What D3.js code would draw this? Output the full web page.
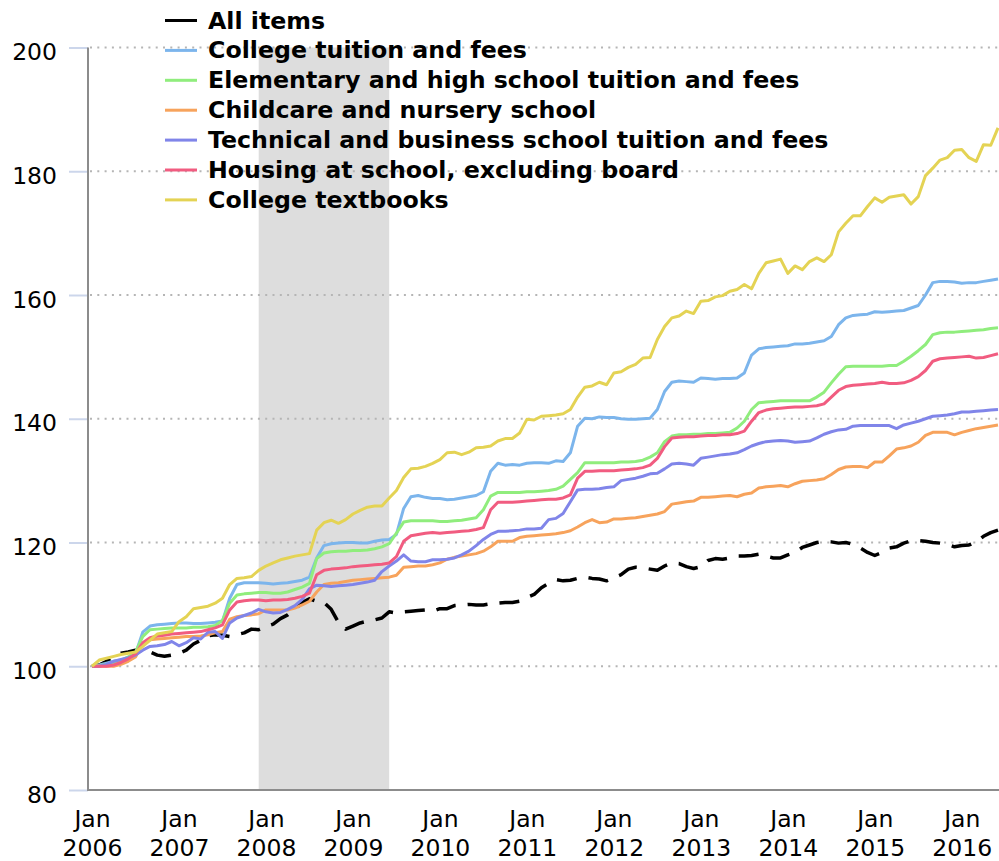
<!DOCTYPE html>
<html><head><meta charset="utf-8">
<script src="https://cdn.jsdelivr.net/npm/d3@7"></script>
<style>body{margin:0;background:#fff}svg{display:block}</style>
</head><body>
<svg id="chart" width="999" height="861"></svg>
<script>
// ---- data (monthly index, Jan 2006 = 100) ----
const startYear = 2006;
const xTickYears = [2006, 2007, 2008, 2009, 2010, 2011, 2012, 2013, 2014, 2015, 2016];
const yTicks = [80, 100, 120, 140, 160, 180, 200];
const recessionStart = 2007 + 11 / 12; // Dec 2007
const recessionEnd = 2009 + 5 / 12;    // Jun 2009

const seriesNames = [
  "All items",
  "College tuition and fees",
  "Elementary and high school tuition and fees",
  "Childcare and nursery school",
  "Technical and business school tuition and fees",
  "Housing at school, excluding board",
  "College textbooks"
];
const seriesColors = ["#000000", "#7cb5ec", "#90ed7d", "#f7a35c", "#8085e9", "#f15c80", "#e4d354"];

const allItems = [
  100.0,100.2,100.8,101.6,102.1,102.3,102.6,102.8,102.3,101.8,101.6,101.8,
  102.1,102.6,103.6,104.2,104.9,105.1,105.0,104.8,105.1,105.4,106.0,105.9,
  106.4,106.8,107.7,108.3,109.2,110.3,110.9,110.5,110.3,109.2,107.1,106.0,
  106.5,107.0,107.3,107.5,107.8,108.8,108.6,108.8,108.9,109.0,109.1,108.9,
  109.3,109.3,109.8,109.9,110.0,109.9,109.9,110.1,110.2,110.3,110.3,110.5,
  111.1,111.6,112.7,113.4,114.0,113.8,113.9,114.2,114.4,114.2,114.1,113.8,
  114.3,114.8,115.7,116.0,115.9,115.7,115.5,116.2,116.7,116.6,116.1,115.8,
  116.1,117.1,117.4,117.3,117.5,117.8,117.8,117.9,118.1,117.8,117.5,117.5,
  118.0,118.4,119.2,119.6,120.0,120.2,120.1,119.9,120.0,119.7,119.1,118.4,
  117.9,118.4,119.1,119.3,119.9,120.3,120.3,120.2,120.0,119.9,119.7,119.3,
  119.5,119.6,120.1,121.0,121.6,122.0
];
const collegeTuition = [
  100.0,100.2,100.5,100.8,101.0,101.2,102.0,105.5,106.5,106.7,106.8,106.9,
  107.0,107.0,106.9,106.9,107.0,107.1,107.3,111.0,113.2,113.5,113.5,113.5,
  113.4,113.3,113.4,113.5,113.7,113.9,114.4,117.5,119.5,119.8,119.9,120.0,
  120.0,119.9,119.9,120.2,120.4,120.5,121.3,125.5,127.4,127.6,127.3,127.1,
  127.1,126.9,127.0,127.2,127.4,127.6,128.2,131.5,132.8,132.5,132.6,132.5,
  132.8,132.9,132.9,132.8,133.2,133.1,134.5,138.8,140.1,140.0,140.3,140.2,
  140.2,140.0,139.9,139.9,140.0,140.1,141.5,144.4,145.9,146.1,146.0,145.9,
  146.6,146.5,146.4,146.5,146.5,146.6,147.4,150.3,151.3,151.5,151.6,151.7,
  151.8,152.1,152.1,152.2,152.4,152.6,153.3,155.2,156.3,156.7,156.8,156.9,
  157.3,157.2,157.3,157.4,157.5,157.9,158.3,160.0,162.0,162.2,162.2,162.1,
  161.9,162.0,162.0,162.2,162.4,162.6
];
const elementaryTuition = [
  100.0,100.1,100.3,100.6,101.0,101.5,102.3,104.8,105.9,106.0,106.1,106.2,
  106.2,106.2,106.3,106.3,106.4,106.6,107.4,110.2,111.5,111.7,111.8,111.9,
  111.9,111.8,111.8,112.0,112.4,112.8,113.4,117.4,118.3,118.5,118.6,118.6,
  118.7,118.7,118.8,119.0,119.3,119.8,121.5,123.3,123.5,123.5,123.5,123.5,
  123.4,123.4,123.5,123.6,123.8,124.0,125.3,127.5,128.1,128.1,128.1,128.1,
  128.2,128.2,128.3,128.4,128.6,129.1,130.2,131.3,132.9,132.9,132.9,132.9,
  132.9,133.0,133.0,133.1,133.3,133.8,134.5,136.3,137.2,137.4,137.4,137.5,
  137.5,137.6,137.6,137.7,137.8,138.5,139.6,141.5,142.6,142.7,142.8,142.9,
  142.9,142.9,142.9,142.9,143.5,144.3,145.8,147.2,148.4,148.5,148.5,148.5,
  148.5,148.5,148.6,148.6,149.3,150.1,151.0,152.0,153.6,153.9,154.0,154.0,
  154.1,154.2,154.3,154.4,154.6,154.7
];
const childcare = [
  100.0,100.0,100.0,100.0,100.3,100.8,101.5,103.6,104.3,104.4,104.5,104.6,
  104.7,104.8,104.8,104.9,105.1,105.4,105.6,107.6,108.0,108.2,108.3,108.5,
  109.1,109.1,109.1,109.1,109.4,109.9,110.5,112.0,113.2,113.4,113.5,113.7,
  113.9,114.0,114.1,114.2,114.3,114.4,114.7,116.0,116.1,116.2,116.2,116.4,
  116.7,117.3,117.6,117.8,118.0,118.2,118.6,119.3,120.2,120.2,120.2,120.8,
  121.0,121.1,121.2,121.3,121.4,121.6,121.9,122.5,123.2,123.7,123.2,123.3,
  123.8,123.8,123.9,124.0,124.2,124.4,124.6,125.0,126.2,126.4,126.6,126.7,
  127.3,127.3,127.4,127.5,127.6,127.4,127.8,128.0,128.8,129.0,129.1,129.2,
  129.0,129.5,129.9,130.0,130.1,130.3,131.0,131.8,132.2,132.3,132.3,132.1,
  133.0,133.0,134.0,135.1,135.3,135.6,136.2,137.3,137.8,137.8,137.8,137.4,
  137.8,138.1,138.4,138.6,138.8,139.0
];
const technicalTuition = [
  100.0,100.0,100.3,100.8,101.1,101.4,101.8,102.6,103.2,103.3,103.5,104.0,
  103.3,103.8,104.6,104.4,105.5,105.6,104.5,107.0,107.8,108.2,108.6,109.2,
  108.8,108.6,108.7,109.2,109.8,110.8,112.5,113.1,113.0,112.9,113.0,113.1,
  113.2,113.4,113.6,113.9,115.3,116.2,117.0,118.0,117.0,116.9,116.9,117.2,
  117.2,117.3,117.5,118.0,118.6,119.5,120.5,121.3,121.8,121.8,121.9,122.0,
  122.2,122.2,122.3,123.7,123.9,124.7,126.6,128.5,128.6,128.6,128.7,128.9,
  129.0,130.0,130.2,130.4,130.7,131.1,131.2,131.9,132.7,132.8,132.7,132.5,
  133.6,133.8,134.0,134.2,134.3,134.5,135.0,135.6,136.0,136.3,136.4,136.5,
  136.4,136.2,136.3,136.4,136.9,137.5,137.9,138.2,138.3,138.8,138.9,138.9,
  138.9,138.9,138.9,138.4,139.0,139.3,139.6,140.0,140.4,140.5,140.6,140.8,
  141.1,141.1,141.2,141.3,141.4,141.5
];
const housingAtSchool = [
  100.0,100.0,100.0,100.2,100.6,101.2,102.0,103.8,104.6,104.9,105.0,105.2,
  105.3,105.4,105.5,105.6,105.9,106.2,106.7,109.1,110.4,110.6,110.7,110.7,
  110.6,110.7,110.7,110.8,111.0,111.3,111.8,114.8,115.5,115.7,115.8,115.9,
  116.1,116.2,116.3,116.4,116.5,116.7,117.7,120.2,121.1,121.3,121.5,121.6,
  121.5,121.6,121.7,121.8,121.9,122.1,122.4,125.3,126.5,126.5,126.5,126.6,
  126.7,126.8,126.9,127.0,127.0,127.2,127.7,130.4,131.5,131.5,131.6,131.6,
  131.6,131.7,131.8,131.9,132.1,132.5,133.6,135.5,136.9,137.0,137.1,137.1,
  137.2,137.3,137.3,137.4,137.4,137.6,138.0,139.6,141.0,141.4,141.6,141.7,
  141.8,141.9,141.9,142.0,142.1,142.4,143.5,144.6,145.2,145.4,145.5,145.6,
  145.7,145.9,145.7,145.7,145.8,146.2,146.8,147.8,149.3,149.7,149.8,149.9,
  150.0,150.1,149.8,149.9,150.2,150.5
];
const collegeTextbooks = [
  100.0,101.0,101.3,101.6,101.9,102.1,102.3,103.2,104.2,105.2,105.4,105.6,
  107.2,108.0,109.3,109.5,109.7,110.2,111.0,113.2,114.2,114.3,114.5,115.5,
  116.2,116.7,117.2,117.5,117.8,118.0,118.2,122.0,123.2,123.6,123.1,123.7,
  124.6,125.2,125.7,125.9,125.9,127.2,128.4,130.5,131.9,132.0,132.3,132.8,
  133.4,134.5,134.6,134.2,134.6,135.3,135.4,135.6,136.4,136.8,136.8,137.7,
  139.9,139.8,140.4,140.5,140.6,140.8,141.5,143.5,145.1,145.3,145.9,145.5,
  147.4,147.6,148.3,148.8,149.8,149.9,152.8,154.9,156.3,156.6,157.4,157.0,
  159.0,159.1,159.7,159.9,160.6,160.9,161.7,161.0,163.5,165.2,165.5,165.8,
  163.5,164.7,164.1,165.4,166.0,165.4,166.5,170.2,171.6,172.8,172.8,174.3,
  175.7,175.0,175.8,176.0,176.2,174.7,175.9,179.3,180.5,181.8,182.2,183.4,
  183.5,182.2,181.6,184.3,184.2,187.0
];
const seriesValues = [allItems, collegeTuition, elementaryTuition, childcare,
  technicalTuition, housingAtSchool, collegeTextbooks];

// ---- drawing ----
const FONT = "'DejaVu Sans', Verdana, sans-serif";
const svg = d3.select("#chart");
const plotLeft = 88, plotRight = 999, plotTop = 47.5, plotBottom = 790;

const x = d3.scaleLinear().domain([startYear, 2016 + 5 / 12]).range([92, 998]);
const y = d3.scaleLinear().domain([80, 200]).range([plotBottom, plotTop]);

// recession band
svg.append("rect")
  .attr("x", x(recessionStart)).attr("y", plotTop)
  .attr("width", x(recessionEnd) - x(recessionStart))
  .attr("height", plotBottom - plotTop)
  .attr("fill", "#dddddd");

// gridlines
svg.append("g").selectAll("line").data(yTicks.filter(v => v > 80)).join("line")
  .attr("x1", plotLeft + 2).attr("x2", plotRight)
  .attr("y1", d => y(d)).attr("y2", d => y(d))
  .attr("stroke", "#b5b5b5").attr("stroke-width", 2)
  .attr("stroke-dasharray", "2,5.3");

// y axis (ticks + labels)
const yAxis = d3.axisLeft(y).tickValues(yTicks).tickSize(19).tickPadding(12);
const gy = svg.append("g").attr("transform", `translate(${plotLeft},0)`).call(yAxis);
gy.select(".domain").remove();
gy.selectAll(".tick line").attr("stroke", "#ccd6eb").attr("stroke-width", 2);
gy.selectAll(".tick text").attr("font-family", FONT).attr("font-size", 23.5)
  .attr("fill", "#000").attr("dy", "0.52em");

// x axis (labels)
const xAxis = d3.axisBottom(x).tickValues(xTickYears).tickSize(0).tickFormat("");
const gx = svg.append("g").attr("transform", `translate(0,${plotBottom})`).call(xAxis);
gx.select(".domain").remove();
gx.selectAll(".tick").each(function (d) {
  const t = d3.select(this).append("text")
    .attr("font-family", FONT).attr("font-size", 23.5).attr("fill", "#000")
    .attr("text-anchor", "middle");
  t.append("tspan").attr("x", 0).attr("y", 37).text("Jan");
  t.append("tspan").attr("x", 0).attr("y", 66).text(d);
});

// axis lines
svg.append("line").attr("x1", plotLeft).attr("x2", plotLeft)
  .attr("y1", plotTop).attr("y2", plotBottom + 1)
  .attr("stroke", "#8c8c8c").attr("stroke-width", 2);
svg.append("line").attr("x1", plotLeft).attr("x2", plotRight)
  .attr("y1", plotBottom).attr("y2", plotBottom)
  .attr("stroke", "#8c8c8c").attr("stroke-width", 2);

// series lines
const line = d3.line()
  .x((d, i) => x(startYear + i / 12))
  .y(d => y(d));
seriesValues.forEach((vals, k) => {
  svg.append("path").datum(vals)
    .attr("d", line)
    .attr("fill", "none")
    .attr("stroke", seriesColors[k])
    .attr("stroke-width", k === 0 ? 3.5 : 3)
    .attr("stroke-linejoin", "round")
    .attr("stroke-dasharray", k === 0 ? "20,12" : null);
});

// legend
const legend = svg.append("g");
seriesNames.forEach((name, k) => {
  const cy = 20.5 + k * 29.9;
  legend.append("line").attr("x1", 165).attr("x2", 197)
    .attr("y1", cy).attr("y2", cy)
    .attr("stroke", seriesColors[k]).attr("stroke-width", 3);
  legend.append("text").attr("x", 208).attr("y", cy + 8)
    .attr("font-family", FONT).attr("font-size", 23.7).attr("font-weight", "bold")
    .attr("fill", "#000").text(name);
});
</script>
</body></html>
